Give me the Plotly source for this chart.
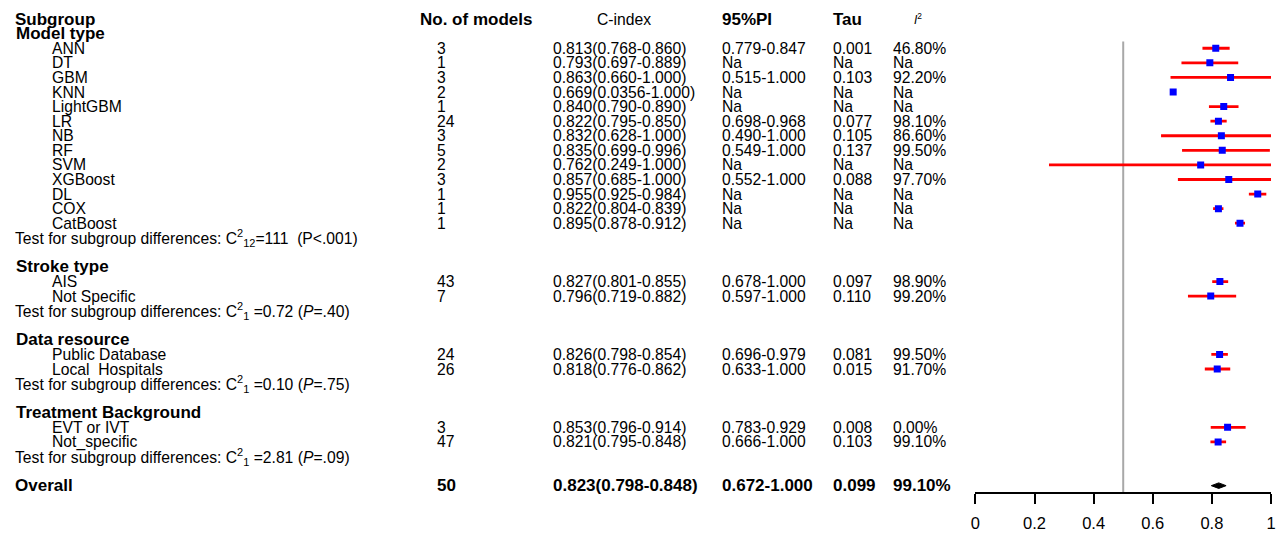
import plotly.graph_objects as go

# ---------------------------------------------------------------- data
group_names = ["Model type", "Stroke type", "Data resource", "Treatment Background"]
group_sizes = [13, 2, 2, 2]

subgroups = ["ANN", "DT", "GBM", "KNN", "LightGBM", "LR", "NB", "RF", "SVM",
             "XGBoost", "DL", "COX", "CatBoost",
             "AIS", "Not Specific",
             "Public Database", "Local&nbsp; Hospitals",
             "EVT or IVT", "Not_specific"]
n_models = [3, 1, 3, 2, 1, 24, 3, 5, 2, 3, 1, 1, 1,
            43, 7,
            24, 26,
            3, 47]
c_index = [0.813, 0.793, 0.863, 0.669, 0.840, 0.822, 0.832, 0.835, 0.762,
           0.857, 0.955, 0.822, 0.895,
           0.827, 0.796,
           0.826, 0.818,
           0.853, 0.821]
ci_lower = [0.768, 0.697, 0.660, 0.0356, 0.790, 0.795, 0.628, 0.699, 0.249,
            0.685, 0.925, 0.804, 0.878,
            0.801, 0.719,
            0.798, 0.776,
            0.796, 0.795]
ci_upper = [0.860, 0.889, 1.000, 1.000, 0.890, 0.850, 1.000, 0.996, 1.000,
            1.000, 0.984, 0.839, 0.912,
            0.855, 0.882,
            0.854, 0.862,
            0.914, 0.848]
# KNN interval is reported in the table but its whisker is not drawn
whisker_drawn = [True, True, True, False, True, True, True, True, True,
                 True, True, True, True,
                 True, True,
                 True, True,
                 True, True]
pred_interval = ["0.779-0.847", "Na", "0.515-1.000", "Na", "Na", "0.698-0.968",
                 "0.490-1.000", "0.549-1.000", "Na", "0.552-1.000", "Na", "Na", "Na",
                 "0.678-1.000", "0.597-1.000",
                 "0.696-0.979", "0.633-1.000",
                 "0.783-0.929", "0.666-1.000"]
tau = ["0.001", "Na", "0.103", "Na", "Na", "0.077", "0.105", "0.137", "Na",
       "0.088", "Na", "Na", "Na",
       "0.097", "0.110",
       "0.081", "0.015",
       "0.008", "0.103"]
i_squared = ["46.80%", "Na", "92.20%", "Na", "Na", "98.10%", "86.60%", "99.50%",
             "Na", "97.70%", "Na", "Na", "Na",
             "98.90%", "99.20%",
             "99.50%", "91.70%",
             "0.00%", "99.10%"]
subgroup_tests = [
    "C<sup>2</sup><sub>12</sub>=111&nbsp; (P&lt;.001)",
    "C<sup>2</sup><sub>1</sub> =0.72 (<i>P</i>=.40)",
    "C<sup>2</sup><sub>1</sub> =0.10 (<i>P</i>=.75)",
    "C<sup>2</sup><sub>1</sub> =2.81 (<i>P</i>=.09)",
]

overall_n = 50
overall_est, overall_lo, overall_hi = 0.823, 0.798, 0.848
overall_pi = "0.672-1.000"
overall_tau = "0.099"
overall_i2 = "99.10%"

axis_ticks = [0, 0.2, 0.4, 0.6, 0.8, 1.0]
reference_line = 0.5

# ---------------------------------------------------------------- layout helpers
W, H = 1282, 534
ROW0_PX, ROW_PX = 19.1, 14.58          # pixel centre of row 0 and row pitch
FONT = "Liberation Sans, Arial, sans-serif"
REG, BOLD = 15.7, 17


def fmt(v):
    s = f"{v:.3f}"
    return s if abs(float(s) - v) < 1e-9 else f"{v:.4f}"


# assign table rows: header row 0, then groups separated by a blank row
item_rows, header_rows, test_rows = [], [], []
r = 1
for size in group_sizes:
    header_rows.append(r)
    item_rows.extend(range(r + 1, r + 1 + size))
    test_rows.append(r + size + 1)
    r = r + size + 3
overall_row = r

annotations = []


def text(px, row, s, size=REG, bold=False, anchor="left", color="black"):
    if bold:
        s = f"<b>{s}</b>"
    annotations.append(dict(
        x=px / W, xref="paper", y=row, yref="y", text=s, showarrow=False,
        xanchor=anchor, yanchor="middle",
        font=dict(family=FONT, size=size, color=color),
    ))


COL_SUB, COL_ITEM, COL_N, COL_C, COL_PI, COL_TAU, COL_I2 = 8, 45, 433, 550, 721, 832, 893

# column headers
text(COL_SUB, 0, "Subgroup", BOLD, True)
text(416, 0, "No. of models", BOLD, True)
text(624, 0, "C-index", REG, False, anchor="center")
text(COL_PI, 0, "95%PI", BOLD, True)
text(COL_TAU, 0, "Tau", BOLD, True)
text(914, 0, "<i>I</i><sup>2</sup>", 12)

for g, name in enumerate(group_names):
    text(COL_SUB + 1, header_rows[g], name, BOLD, True)
    text(COL_SUB, test_rows[g], "Test for subgroup differences: " + subgroup_tests[g], REG)

for i, row in enumerate(item_rows):
    text(COL_ITEM, row, subgroups[i])
    text(COL_N, row, str(n_models[i]))
    text(COL_C, row, f"{fmt(c_index[i])}({fmt(ci_lower[i])}-{fmt(ci_upper[i])})")
    text(COL_PI, row, pred_interval[i])
    text(COL_TAU, row, tau[i])
    text(COL_I2, row, i_squared[i])

text(COL_SUB, overall_row, "Overall", BOLD, True)
text(COL_N, overall_row, str(overall_n), BOLD, True)
text(COL_C, overall_row, f"{fmt(overall_est)}({fmt(overall_lo)}-{fmt(overall_hi)})", BOLD, True)
text(COL_PI, overall_row, overall_pi, BOLD, True)
text(COL_TAU, overall_row, overall_tau, BOLD, True)
text(COL_I2, overall_row, overall_i2, BOLD, True)

# ---------------------------------------------------------------- forest marks
fig = go.Figure()

plus = [(hi - e) if d else 0 for e, hi, d in zip(c_index, ci_upper, whisker_drawn)]
minus = [(e - lo) if d else 0 for e, lo, d in zip(c_index, ci_lower, whisker_drawn)]

fig.add_trace(go.Scatter(
    x=c_index, y=item_rows, mode="markers",
    marker=dict(symbol="square", size=7, color="#0000FF"),
    error_x=dict(type="data", symmetric=False, array=plus, arrayminus=minus,
                 color="#FF0000", thickness=2.8, width=0),
    hoverinfo="skip", showlegend=False,
))

half_h = 0.19
fig.add_trace(go.Scatter(
    x=[overall_lo, overall_est, overall_hi, overall_est, overall_lo],
    y=[overall_row, overall_row - half_h, overall_row, overall_row + half_h, overall_row],
    mode="lines", fill="toself", fillcolor="black",
    line=dict(color="black", width=1), hoverinfo="skip", showlegend=False,
))

AXIS_PX = 493
fig.add_shape(type="line", xref="x", yref="y",
              x0=reference_line, x1=reference_line,
              y0=(41.5 - ROW0_PX) / ROW_PX, y1=(AXIS_PX - ROW0_PX) / ROW_PX,
              line=dict(color="#A8A8A8", width=2), layer="below")

fig.update_layout(
    width=W, height=H,
    margin=dict(l=0, r=0, t=0, b=0),
    paper_bgcolor="white", plot_bgcolor="white",
    font=dict(family=FONT, color="black"),
    annotations=annotations,
    xaxis=dict(
        domain=[978 / W, 1276 / W], range=[0, 1],
        anchor="free", position=1 - AXIS_PX / H,
        showline=True, linecolor="black", linewidth=1.6,
        ticks="outside", ticklen=10, tickwidth=1.6, tickcolor="black",
        ticklabelstandoff=5,
        tickvals=axis_ticks, ticktext=[f"{t:g}" for t in axis_ticks],
        tickfont=dict(family=FONT, size=16.5, color="black"),
        showgrid=False, zeroline=False, fixedrange=True,
    ),
    yaxis=dict(
        domain=[0, 1],
        range=[(H - ROW0_PX) / ROW_PX, -ROW0_PX / ROW_PX],
        visible=False, showgrid=False, zeroline=False, fixedrange=True,
    ),
)

fig.write_html("out.html")
